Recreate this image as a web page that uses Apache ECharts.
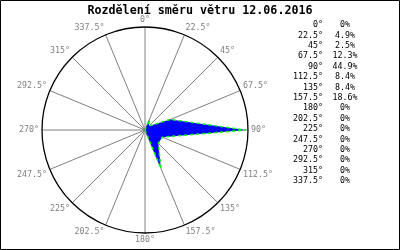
<!DOCTYPE html>
<html>
<head>
<meta charset="utf-8">
<script src="https://cdn.jsdelivr.net/npm/echarts@6/dist/echarts.min.js"></script>
<style>html,body{margin:0;padding:0;background:#fff}#c{width:400px;height:250px}</style>
</head>
<body>
<div id="c"></div>
<script>
var angles = [0, 22.5, 45, 67.5, 90, 112.5, 135, 157.5, 180, 202.5, 225, 247.5, 270, 292.5, 315, 337.5];
var shares = [0, 4.9, 2.5, 12.3, 44.9, 8.4, 8.4, 18.6, 0, 0, 0, 0, 0, 0, 0, 0];
var titleText = 'Rozdělení směru větru 12.06.2016';

var mono = 'DejaVu Sans Mono';
var listGraphics = [];
angles.forEach(function (a, i) {
  var y = 25 + i * 10.4;
  listGraphics.push({type: 'text', x: 323, y: y, style: {text: a + '°', align: 'right', verticalAlign: 'middle', font: '8.3px "' + mono + '"', fill: '#000'}});
  listGraphics.push({type: 'text', x: 345, y: y, style: {text: shares[i] + '%', align: 'center', verticalAlign: 'middle', font: '8.3px "' + mono + '"', fill: '#000'}});
});
listGraphics.push({type: 'rect', shape: {x: 0.5, y: 0.5, width: 399, height: 249}, style: {fill: null, stroke: '#000', lineWidth: 1}, silent: true});

var seriesData = angles.map(function (a, i) { return [shares[i], a]; });

var chart = echarts.init(document.getElementById('c'), null, {renderer: 'canvas'});
chart.setOption({
  animation: false,
  backgroundColor: '#fff',
  title: {text: titleText, left: 'center', top: 5, padding: 0,
    textStyle: {fontFamily: mono, fontWeight: 'bold', fontSize: 11.7, color: '#000'}},
  polar: {center: [145, 130], radius: 103},
  angleAxis: {
    type: 'value', min: 0, max: 360, interval: 22.5, startAngle: 90, clockwise: true,
    axisLine: {show: true, lineStyle: {color: '#000', width: 1.3}},
    axisTick: {show: false},
    splitLine: {show: true, lineStyle: {color: '#808080', width: 1}},
    axisLabel: {color: '#808080', fontFamily: mono, fontSize: 8.3, margin: 3,
      formatter: function (v) { return v >= 360 ? '' : v + '°'; }}
  },
  radiusAxis: {
    type: 'value', min: 0, max: 46,
    axisLine: {show: false}, axisTick: {show: false}, axisLabel: {show: false}, splitLine: {show: false}
  },
  series: [{
    type: 'line', coordinateSystem: 'polar', data: seriesData, symbol: 'none',
    lineStyle: {color: '#00ff00', width: 1.5, type: [3, 3]},
    areaStyle: {color: '#0000ff', opacity: 1},
    z: 3
  }],
  graphic: listGraphics
});
</script>
</body>
</html>
